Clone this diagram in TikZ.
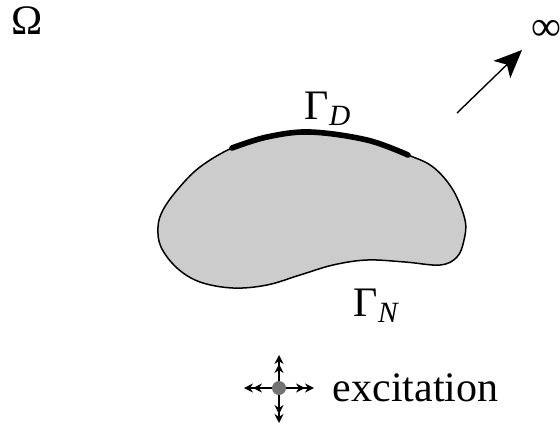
\documentclass[tikz,border=0pt]{standalone}
\usepackage{fontspec}
\setmainfont{Liberation Serif}
\usepackage{tikz}
\usetikzlibrary{arrows.meta, positioning, calc}

\begin{document}
\begin{tikzpicture}[x=0.5pt, y=-0.5pt,
  label/.style={inner sep=0pt, font=\fontsize{21}{24}\selectfont},
  body/.style={draw=black, line width=0.75pt, fill=black!20},
  dirichlet/.style={line width=2.8pt, line cap=round},
  farfield/.style={line width=0.7pt, -{Stealth[length=14pt, width=12pt, inset=3.5pt]}},
  shake/.style={line width=0.6pt, -{Stealth[length=4.5pt, width=4.5pt] Stealth[length=4.5pt, width=4.5pt]}},
  source/.style={circle, fill=black!55, inner sep=0pt, minimum size=7pt}
]
  \useasboundingbox (0,0) rectangle (560,428);

  % Scatterer with Neumann boundary
  \draw[body] plot[smooth cycle, tension=0.6] coordinates {
    (232,148) (267,137) (310,132) (367,140) (408,155) (433,167)
    (453,190) (465,220) (464,240) (457,257) (440,265) (405,262)
    (367,260) (333,265) (300,275) (267,285) (233,288) (200,282)
    (177,268) (161,247) (158,227) (163,210) (178,189) (200,167)};

  % Dirichlet part of the boundary
  \draw[dirichlet] plot[smooth, tension=0.6] coordinates {
    (232,148) (267,137) (310,132) (367,140) (408,155)};

  % Labels
  \node[label] (omega) at (27,21)   {Ω};
  \node[label] (gD)    at (328,109) {Γ\textsubscript{\textit{D}}};
  \node[label] (gN)    at (377,306) {Γ\textsubscript{\textit{N}}};
  \node[label] (inf)   at (546,30)  {∞};

  % Radiation towards infinity
  \coordinate (rs) at (457,113);
  \coordinate (re) at (522,50);
  \draw[farfield] (rs) -- (re);

  % Point excitation
  \node[source] (src) at (279,388) {};
  \coordinate (sl) at (244,388);
  \coordinate (sr) at (314,388);
  \coordinate (su) at (279,355);
  \coordinate (sd) at (279,423);
  \foreach \e in {sl, sr, su, sd}
    \draw[shake] (src) -- (\e);
  \node[label, right=23pt of src, anchor=west] (exc) {excitation};
\end{tikzpicture}
\end{document}
